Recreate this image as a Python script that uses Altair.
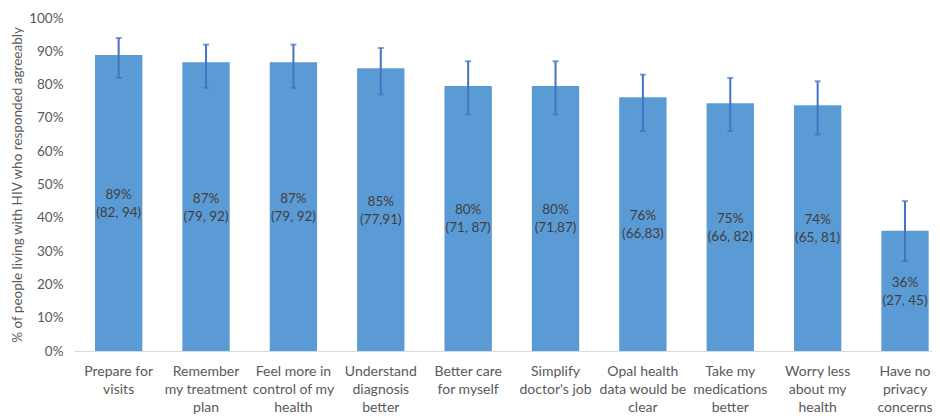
import altair as alt
import pandas as pd

categories = ["Prepare for|visits", "Remember|my treatment|plan", "Feel more in|control of my|health",
              "Understand|diagnosis|better", "Better care|for myself", "Simplify|doctor's job",
              "Opal health|data would be|clear", "Take my|medications|better", "Worry less|about my|health",
              "Have no|privacy|concerns"]
values = [88.9, 86.7, 86.7, 84.9, 79.6, 79.6, 76.2, 74.4, 73.8, 36.1]
lower = [82, 79, 79, 77, 71, 71, 66, 66, 65, 27]
upper = [94, 92, 92, 91, 87, 87, 83, 82, 81, 45]
label_pct = ["89%", "87%", "87%", "85%", "80%", "80%", "76%", "75%", "74%", "36%"]
label_ci = ["(82, 94)", "(79, 92)", "(79, 92)", "(77,91)", "(71, 87)", "(71,87)",
            "(66,83)", "(66, 82)", "(65, 81)", "(27, 45)"]
y_ticks = [0, 10, 20, 30, 40, 50, 60, 70, 80, 90, 100]

df = pd.DataFrame({
    "cat": categories,
    "value": values,
    "lower": lower,
    "upper": upper,
    "label": [p + "\n" + c for p, c in zip(label_pct, label_ci)],
    "mid": [v / 2 for v in values],
})

FONT = "Lato"
TITLE = "% of people living with HIV who responded agreeably"

x_axis = alt.Axis(labelAngle=0, labelExpr="split(datum.label, '|')", labelLineHeight=18,
                  labelFontSize=14, labelColor="#595959", labelFont=FONT, labelPadding=13,
                  labelOverlap=False, labelBound=False,
                  ticks=False, domainColor="#d9d9d9", domainWidth=1)
x_scale = alt.Scale(paddingInner=0.458, paddingOuter=0.139, align=0.864)
y_axis = alt.Axis(values=y_ticks, tickCount=11, labelExpr="datum.value + '%'", grid=False, ticks=False,
                  domain=False, labelFontSize=13.5, labelColor="#595959", labelFont=FONT,
                  labelOverlap=False, labelPadding=11, titleFontSize=13.5,
                  titleColor="#595959", titleFont=FONT,
                  titleFontWeight="normal", titlePadding=4)
y_scale = alt.Scale(domain=[0, 100], nice=False)


def X():
    return alt.X("cat:N", sort=categories, title=None, scale=x_scale, axis=x_axis)


def Y(field):
    return alt.Y(field, title=TITLE, scale=y_scale, axis=y_axis)


base = alt.Chart(df)

bars = base.mark_bar(color="#5b9bd5").encode(x=X(), y=Y("value:Q"))

err = base.mark_rule(color="#4472c4", strokeWidth=2).encode(
    x=X(), y=Y("lower:Q"), y2="upper:Q")
cap_hi = base.mark_tick(color="#4472c4", thickness=2, size=6, orient="horizontal").encode(
    x=X(), y=Y("upper:Q"))
cap_lo = base.mark_tick(color="#4472c4", thickness=2, size=6, orient="horizontal").encode(
    x=X(), y=Y("lower:Q"))

labels = base.mark_text(color="#404040", fontSize=13.5, font=FONT, lineBreak="\n", lineHeight=18,
                        baseline="middle", dy=-8).encode(
    x=X(), y=Y("mid:Q"), text="label:N")

chart = alt.layer(bars, err, cap_hi, cap_lo, labels).properties(
    width=858, height=333,
    autosize=alt.AutoSizeParams(type="none"),
    padding={"left": 66, "top": 10, "right": 0, "bottom": 65},
).configure_view(stroke=None)

chart.save("out.html", embed_options={"renderer": "svg", "actions": False})
